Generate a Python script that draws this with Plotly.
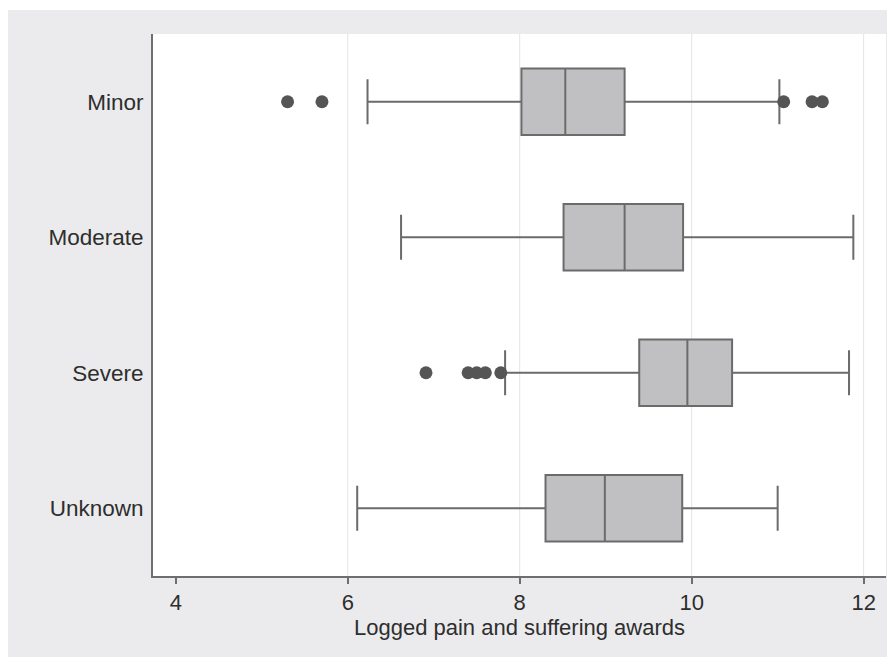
import plotly.graph_objects as go

categories = ["Minor", "Moderate", "Severe", "Unknown"]
q1 = [8.02, 8.51, 9.39, 8.30]
median = [8.53, 9.22, 9.95, 8.99]
q3 = [9.22, 9.90, 10.47, 9.89]
lowerfence = [6.23, 6.62, 7.83, 6.11]
upperfence = [11.02, 11.88, 11.83, 11.00]

outlier_cats = ["Minor", "Minor", "Minor", "Minor", "Minor",
                "Severe", "Severe", "Severe", "Severe", "Severe"]
outlier_vals = [5.30, 5.70, 11.07, 11.40, 11.52,
                6.91, 7.40, 7.50, 7.60, 7.78]

x_ticks = [4, 6, 8, 10, 12]
grid_vals = [6, 8, 10, 12]

box_fill = "#c0c0c2"
box_line = "#6b6b6b"
text_col = "#2e2e2e"
axis_col = "#6e6e6e"
bg_gray = "#ebebed"

# page body has an 8px margin; figure sized to fill the rest of the window
W, H = 887, 649
ml, mr, mt, mb = 145, 9, 26, 81
pw, ph = W - ml - mr, H - mt - mb

fig = go.Figure()
for i, c in enumerate(categories):
    fig.add_trace(go.Box(
        y=[c], q1=[q1[i]], median=[median[i]], q3=[q3[i]],
        lowerfence=[lowerfence[i]], upperfence=[upperfence[i]],
        orientation="h", width=0.49, whiskerwidth=0.675,
        fillcolor=box_fill, line=dict(color=box_line, width=2),
        boxpoints=False, showlegend=False, hoverinfo="skip",
    ))

fig.add_trace(go.Scatter(
    x=outlier_vals, y=outlier_cats, mode="markers",
    marker=dict(size=13, color="#555555"),
    showlegend=False, hoverinfo="skip",
))

shapes = []
# thin white strip at the top outside the gray frame
shapes.append(dict(type="rect", xref="paper", yref="paper",
                   x0=-ml / pw, x1=(W - ml) / pw,
                   y0=(ph + mt - 2) / ph, y1=(ph + mt) / ph,
                   fillcolor="white", line=dict(width=0), layer="below"))
for g in grid_vals:
    shapes.append(dict(type="line", xref="x", yref="paper",
                       x0=g, x1=g, y0=0, y1=1,
                       line=dict(color="#e4e4e4", width=1), layer="below"))

fig.update_layout(
    width=W, height=H,
    margin=dict(l=ml, r=mr, t=mt, b=mb, pad=0),
    paper_bgcolor=bg_gray, plot_bgcolor="white",
    font=dict(family="Liberation Sans, Arial, sans-serif", color=text_col, size=22),
    shapes=shapes,
    xaxis=dict(
        range=[3.735, 12.26], tickvals=x_ticks, ticktext=[str(v) for v in x_ticks],
        ticks="outside", ticklen=6, tickwidth=2, tickcolor=axis_col,
        showline=True, linecolor=axis_col, linewidth=2,
        showgrid=False, zeroline=False,
        tickfont=dict(size=22, color=text_col),
        title=dict(text="Logged pain and suffering awards",
                   font=dict(size=22, color=text_col), standoff=3),
    ),
    yaxis=dict(
        type="category", categoryorder="array", categoryarray=categories,
        range=[3.5, -0.5], showline=True, linecolor=axis_col, linewidth=2,
        ticks="", showgrid=False, zeroline=False,
        tickfont=dict(size=22.5, color=text_col), ticklabelstandoff=3,
    ),
)

fig.write_html("out.html")
